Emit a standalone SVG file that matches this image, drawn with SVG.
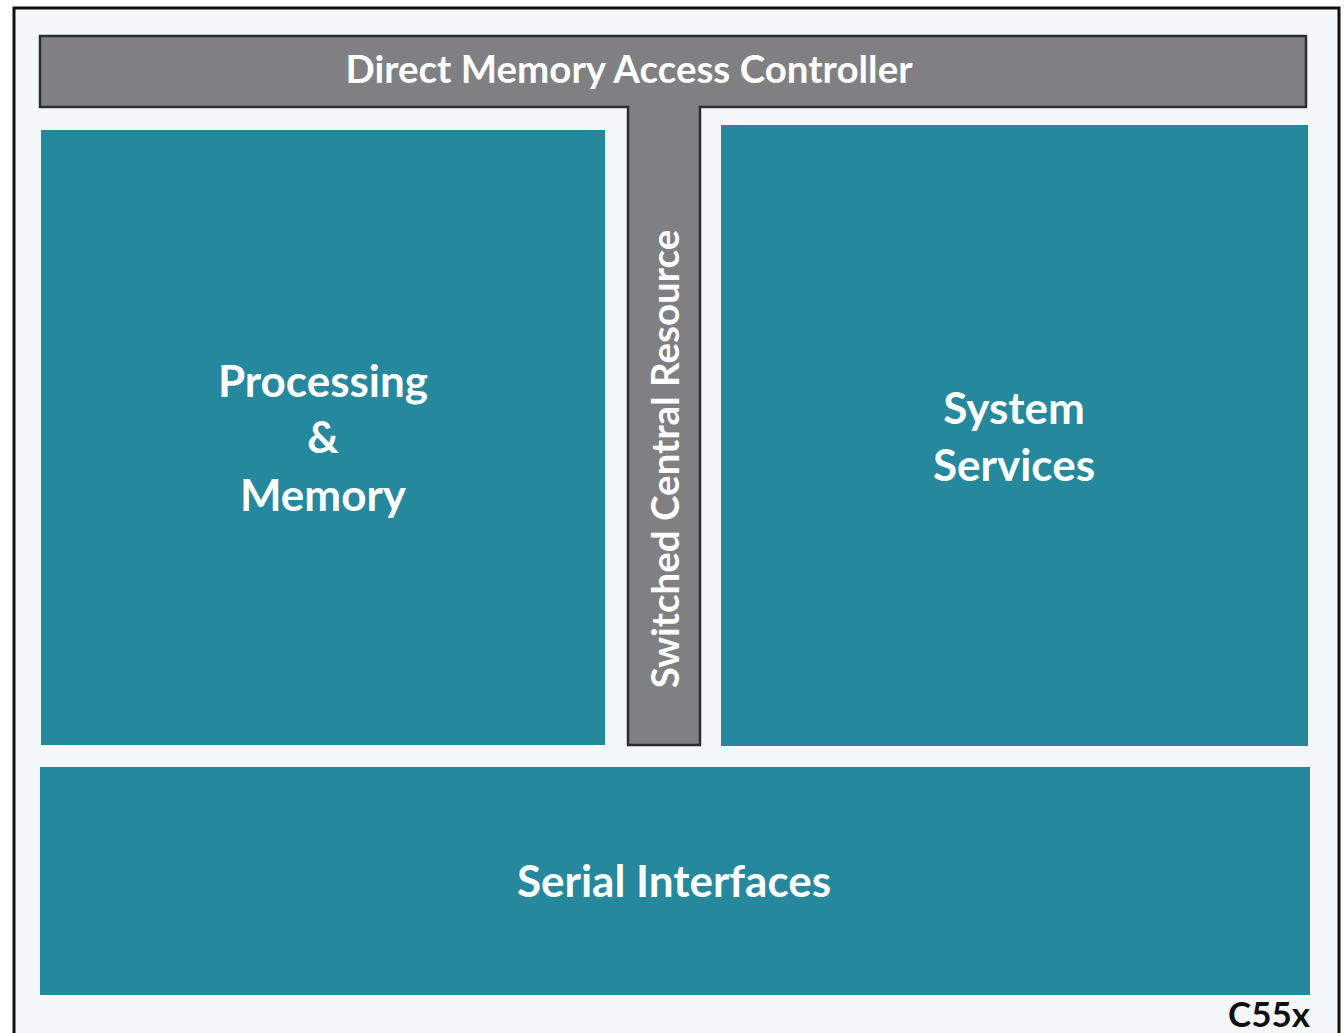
<svg xmlns="http://www.w3.org/2000/svg" width="1344" height="1033" viewBox="0 0 1344 1033">
<style>
.blk{fill:#25889c}
.lbl{font-family:Lato,"Open Sans","Liberation Sans",sans-serif;font-weight:bold;fill:#ffffff;text-anchor:middle}
</style>
<rect x="0" y="0" width="1344" height="1033" fill="#ffffff"/>
<rect id="frame" x="14" y="8" width="1325" height="1040" fill="#f4f8fb" stroke="#111111" stroke-width="3"/>
<g id="connectors"></g>
<g id="dma">
<path d="M40,36 H1306 V107 H700 V745 H628 V107 H40 Z" fill="#808083" stroke="#2e2e30" stroke-width="2.5" stroke-linejoin="miter"/>
<text class="lbl" x="629" y="83" font-size="38.5">Direct Memory Access Controller</text>
<text class="lbl" transform="translate(679,459) rotate(-90)" font-size="38.5">Switched Central Resource</text>
</g>
<g id="processing">
<rect class="blk" x="41" y="130" width="564" height="615"/>
<text class="lbl" x="323" y="397" font-size="44">Processing</text>
<text class="lbl" x="323" y="453" font-size="44">&amp;</text>
<text class="lbl" x="323" y="511" font-size="44">Memory</text>
</g>
<g id="system">
<rect class="blk" x="721" y="125" width="587" height="621"/>
<text class="lbl" x="1014" y="424" font-size="44">System</text>
<text class="lbl" x="1014" y="481" font-size="44">Services</text>
</g>
<g id="serial">
<rect class="blk" x="40" y="767" width="1270" height="228"/>
<text class="lbl" x="674" y="897" font-size="44">Serial Interfaces</text>
</g>
<text x="1269" y="1027" font-family="Lato,'Open Sans','Liberation Sans',sans-serif" font-weight="bold" font-size="35" fill="#111111" text-anchor="middle">C55x</text>
</svg>
